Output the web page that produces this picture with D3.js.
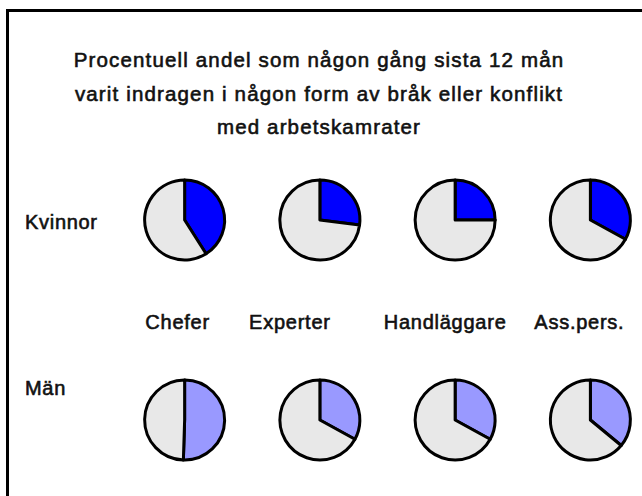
<!DOCTYPE html>
<html><head><meta charset="utf-8">
<script src="https://cdn.jsdelivr.net/npm/d3@7"></script>
<style>
html,body{margin:0;padding:0;background:#fff;}
svg{display:block;}
text{font-family:"Liberation Sans",Arial,Helvetica,sans-serif;fill:#111;stroke:#111;stroke-width:0.6px;}
</style></head>
<body>
<svg id="chart" width="642" height="496"></svg>
<script>
const titleLines = ["Procentuell andel som någon gång sista 12 mån",
                    "varit indragen i någon form av bråk eller konflikt",
                    "med arbetskamrater"];
const categories = ["Chefer", "Experter", "Handläggare", "Ass.pers."];
const groups = ["Kvinnor", "Män"];
const kvinnor = [41, 27, 25, 33];
const man = [50.5, 33, 33, 36];
const groupValues = [kvinnor, man];
const colors = {Kvinnor: "#0000ff", "Män": "#9999ff"};
const restColor = "#e8e8e8";

const svg = d3.select("#chart");
svg.append("rect").attr("x", 7.5).attr("y", 10.5).attr("width", 700).attr("height", 600)
  .attr("fill", "none").attr("stroke", "#000").attr("stroke-width", 3);

const title = svg.append("text").attr("text-anchor", "middle")
  .style("font-size", "20.5px").style("letter-spacing", "1.15px");
titleLines.forEach((l, i) => {
  title.append("tspan").attr("x", 319).attr("y", 67 + i * 33.5).text(l);
});

const x = d3.scaleBand().domain(categories).range([117, 658]);
const y = d3.scalePoint().domain(groups).range([220, 420]);
const r = 40;
const pie = d3.pie().sort(null).value(d => d.v);
const arc = d3.arc().innerRadius(0).outerRadius(r);

groups.forEach((g, gi) => {
  svg.append("text").attr("x", 25).attr("y", gi === 0 ? 229 : 395)
    .style("font-size", "20px").style("letter-spacing", "0.7px").text(g);
  categories.forEach((c, ci) => {
    const v = groupValues[gi][ci];
    const gp = svg.append("g")
      .attr("transform", `translate(${x(c) + x.bandwidth() / 2},${y(g)})`);
    gp.selectAll("path").data(pie([{v: v, col: colors[g]}, {v: 100 - v, col: restColor}]))
      .join("path").attr("d", arc).attr("fill", d => d.data.col)
      .attr("stroke", "#000").attr("stroke-width", 3).attr("stroke-linejoin", "round");
  });
});

const labelDx = [-7, -30, -10, -11];
svg.selectAll("text.cat").data(categories).join("text").attr("class", "cat")
  .attr("x", (d, i) => x(d) + x.bandwidth() / 2 + labelDx[i]).attr("y", 329)
  .attr("text-anchor", "middle").style("font-size", "20px").style("letter-spacing", "0.75px")
  .text(d => d);
</script>
</body></html>
